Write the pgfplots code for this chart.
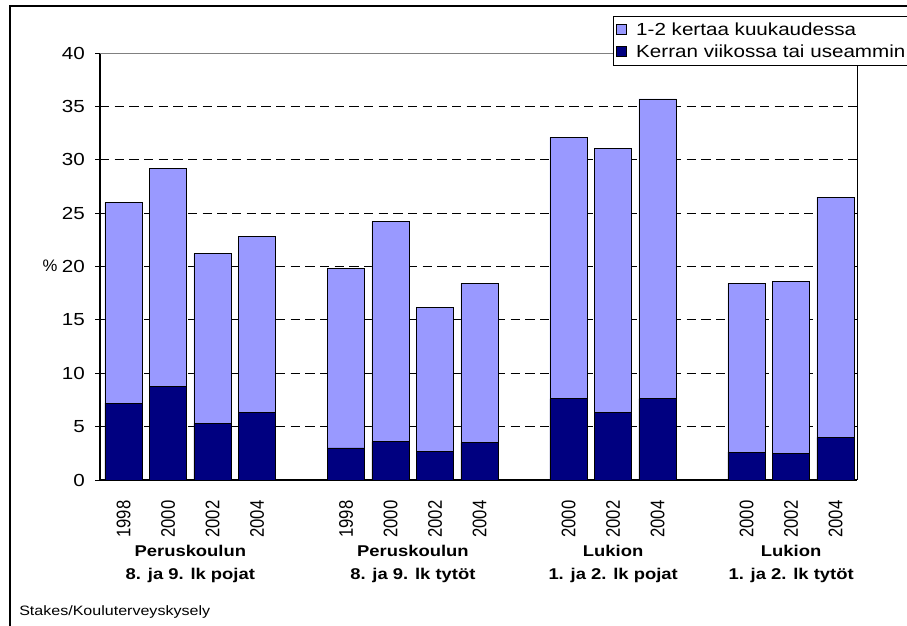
\documentclass[border=0pt]{standalone}
\usepackage{fontspec}
\setmainfont{Liberation Sans}[FakeStretch=1.18]
\newfontfamily\plainfont{Liberation Sans}
\usepackage{graphicx}
\usepackage{pgfplots}
\pgfplotsset{compat=1.18}
\definecolor{darkbar}{HTML}{000080}
\definecolor{lightbar}{HTML}{9999FF}
\newcommand{\yr}[1]{\scalebox{1}[1.18]{\plainfont\fontsize{12.5}{15}\selectfont #1}}
\begin{document}
\begin{tikzpicture}[x=0.75pt,y=0.75pt]
\path[use as bounding box] (0,0) rectangle (907,625);
\draw[line width=1.5pt] (10,-20) -- (10,618.5) -- (960,618.5);
\begin{axis}[
  at={(75pt,108.75pt)}, anchor=south west,
  scale only axis, width=567.75pt, height=320.25pt,
  xmin=-0.53, xmax=16.48, ymin=0, ymax=40,
  ybar stacked, bar width=28pt,
  clip=false,
  axis x line*=bottom, axis y line*=left,
  axis line style={-, line width=0.8pt, black},
  ytick={0,5,...,40},
  ymajorgrids,
  grid style={dash pattern=on 7pt off 4pt, line width=0.6pt, black},
  tick align=outside,
  major tick length=3.75pt,
  ytick style={black, line width=0.6pt},
  xtick style={draw=none},
  /pgf/number format/assume math mode=true,
  yticklabel style={font=\fontsize{13.1}{15}\selectfont, anchor=east, inner ysep=0pt, inner xsep=7.5pt},
  xtick={0,1,2,3,5,6,7,8,10,11,12,14,15,16},
  xticklabels={\yr{1998},\yr{2000},\yr{2002},\yr{2004},\yr{1998},\yr{2000},\yr{2002},\yr{2004},\yr{2000},\yr{2002},\yr{2004},\yr{2000},\yr{2002},\yr{2004}},
  xticklabel style={rotate=90, anchor=east, inner ysep=0pt, inner xsep=11.5pt},
  legend style={at={(axis description cs:0.6777,1.0867)}, anchor=north west,
    draw=black, line width=0.6pt, fill=white,
    font=\fontsize{13.1}{15}\selectfont,
    inner xsep=2pt, inner ysep=2.5pt, row sep=1.5pt,
    /tikz/every odd column/.append style={column sep=5pt},
    cells={anchor=west}},
  legend image code/.code={\draw[#1, draw=black, line width=0.6pt] (0pt,-3.75pt) rectangle (7.5pt,3.75pt);},
  reverse legend,
]
\addplot[fill=darkbar, draw=black, line width=0.6pt] coordinates {
  (0,7.2) (1,8.8) (2,5.3) (3,6.3)
  (5,3.0) (6,3.6) (7,2.7) (8,3.5)
  (10,7.6) (11,6.3) (12,7.6)
  (14,2.6) (15,2.5) (16,4.0)};
\addplot[fill=lightbar, draw=black, line width=0.6pt] coordinates {
  (0,18.8) (1,20.4) (2,15.9) (3,16.5)
  (5,16.8) (6,20.6) (7,13.5) (8,14.9)
  (10,24.5) (11,24.8) (12,28.1)
  (14,15.8) (15,16.1) (16,22.5)};
\legend{Kerran viikossa tai useammin, 1-2 kertaa kuukaudessa}
\draw[line width=0.6pt, black] (rel axis cs:1,0) -- (rel axis cs:1,1);
\draw[line width=0.4pt, gray] (rel axis cs:0,1) -- (rel axis cs:1,1);
\node[font=\bfseries\fontsize{11.7}{14}\selectfont, anchor=base, inner sep=0pt] at (axis cs:1.5,0) [yshift=-57.75pt] {Peruskoulun};
\node[font=\bfseries\fontsize{11.7}{14}\selectfont, anchor=base, inner sep=0pt] at (axis cs:1.5,0) [yshift=-74.25pt] {8. ja 9. lk pojat};
\node[font=\bfseries\fontsize{11.7}{14}\selectfont, anchor=base, inner sep=0pt] at (axis cs:6.5,0) [yshift=-57.75pt] {Peruskoulun};
\node[font=\bfseries\fontsize{11.7}{14}\selectfont, anchor=base, inner sep=0pt] at (axis cs:6.5,0) [yshift=-74.25pt] {8. ja 9. lk tytöt};
\node[font=\bfseries\fontsize{11.7}{14}\selectfont, anchor=base, inner sep=0pt] at (axis cs:11,0) [yshift=-57.75pt] {Lukion};
\node[font=\bfseries\fontsize{11.7}{14}\selectfont, anchor=base, inner sep=0pt] at (axis cs:11,0) [yshift=-74.25pt] {1. ja 2. lk pojat};
\node[font=\bfseries\fontsize{11.7}{14}\selectfont, anchor=base, inner sep=0pt] at (axis cs:15,0) [yshift=-57.75pt] {Lukion};
\node[font=\bfseries\fontsize{11.7}{14}\selectfont, anchor=base, inner sep=0pt] at (axis cs:15,0) [yshift=-74.25pt] {1. ja 2. lk tytöt};
\end{axis}
\node[font=\plainfont\fontsize{12.5}{15}\selectfont, anchor=center, inner sep=0pt] at (50,359) {\%};
\node[font=\fontsize{10.2}{12}\selectfont, anchor=base west, inner sep=0pt] at (19,10) {Stakes/Kouluterveyskysely};
\end{tikzpicture}
\end{document}
